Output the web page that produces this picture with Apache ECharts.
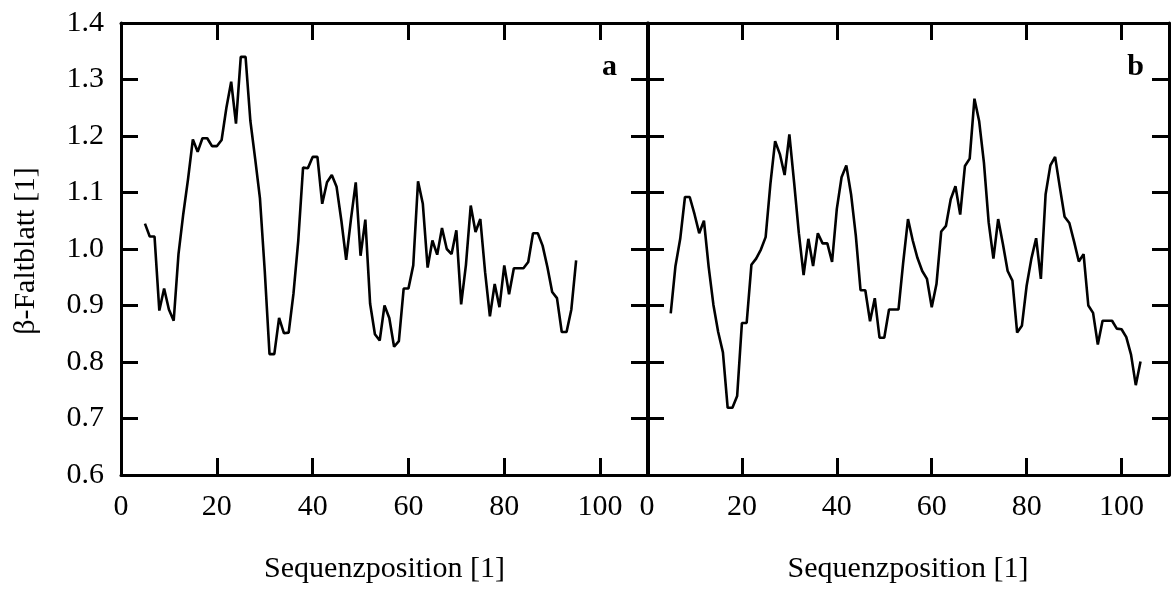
<!DOCTYPE html>
<html>
<head>
<meta charset="utf-8">
<script src="https://cdn.jsdelivr.net/npm/echarts/dist/echarts.min.js"></script>
<style>
  html, body { margin: 0; padding: 0; background: #fff; }
  #chart { width: 1172px; height: 589px; }
</style>
</head>
<body>
<div id="chart"></div>
<script>
// ---- data ----
const xTickLabels = [0, 20, 40, 60, 80, 100];
const yTickLabels = ['0.6', '0.7', '0.8', '0.9', '1.0', '1.1', '1.2', '1.3', '1.4'];
const startA = 5;
const valuesA = [
  1.045, 1.022, 1.022, 0.891, 0.930, 0.893, 0.873, 0.991, 1.062, 1.124,
  1.194, 1.172, 1.196, 1.196, 1.182, 1.182, 1.193, 1.250, 1.296, 1.222,
  1.340, 1.340, 1.227, 1.160, 1.090, 0.962, 0.814, 0.814, 0.878, 0.851,
  0.852, 0.921, 1.015, 1.144, 1.143, 1.163, 1.163, 1.080, 1.118, 1.131,
  1.110, 1.050, 0.981, 1.053, 1.118, 0.988, 1.052, 0.903, 0.849, 0.838,
  0.900, 0.878, 0.827, 0.837, 0.930, 0.930, 0.971, 1.120, 1.080, 0.967,
  1.015, 0.990, 1.037, 1.000, 0.991, 1.033, 0.902, 0.972, 1.077, 1.030,
  1.053, 0.959, 0.881, 0.938, 0.897, 0.971, 0.920, 0.966, 0.966, 0.966,
  0.977, 1.028, 1.028, 1.006, 0.968, 0.924, 0.913, 0.853, 0.853, 0.893,
  0.980
];
const startB = 5;
const valuesB = [
  0.886, 0.970, 1.018, 1.092, 1.092, 1.062, 1.028, 1.050, 0.968, 0.901,
  0.853, 0.817, 0.719, 0.719, 0.740, 0.869, 0.869, 0.972, 0.983, 0.999,
  1.021, 1.115, 1.191, 1.168, 1.131, 1.203, 1.118, 1.028, 0.954, 1.018,
  0.970, 1.028, 1.010, 1.010, 0.977, 1.071, 1.127, 1.148, 1.097, 1.024,
  0.927, 0.927, 0.872, 0.913, 0.843, 0.843, 0.893, 0.893, 0.893, 0.977,
  1.053, 1.015, 0.984, 0.961, 0.947, 0.897, 0.938, 1.031, 1.041, 1.088,
  1.111, 1.061, 1.147, 1.160, 1.266, 1.226, 1.153, 1.047, 0.983, 1.053,
  1.009, 0.961, 0.944, 0.852, 0.864, 0.935, 0.983, 1.019, 0.947, 1.097,
  1.148, 1.163, 1.109, 1.057, 1.046, 1.013, 0.978, 0.991, 0.900, 0.887,
  0.831, 0.873, 0.873, 0.873, 0.859, 0.858, 0.844, 0.813, 0.759, 0.801
];
const xName = 'Sequenzposition [1]';
const yName = 'β-Faltblatt [1]';
const panelLabels = ['a', 'b'];

// ---- chart ----
const FONT = '"Liberation Serif", "Times New Roman", serif';
const black = '#000';
const dataA = valuesA.map((v, i) => [startA + i, v]);
const dataB = valuesB.map((v, i) => [startB + i, v]);

function xAx(grid, pos, withLabels) {
  return {
    gridIndex: grid, type: 'value', position: pos,
    min: 0, max: 110, interval: 20,
    axisLine: { show: true, onZero: false, lineStyle: { color: black, width: 3 } },
    axisTick: { show: true, inside: true, length: 17, lineStyle: { color: black, width: 3 } },
    axisLabel: {
      show: withLabels, margin: 17, fontSize: 30, color: black, fontFamily: FONT,
      formatter: v => (xTickLabels.indexOf(v) >= 0 ? String(v) : '')
    },
    splitLine: { show: false },
    name: withLabels ? xName : '',
    nameLocation: 'middle', nameGap: 79,
    nameTextStyle: { fontSize: 30, color: black, fontFamily: FONT }
  };
}
function yAx(grid, pos, withLabels) {
  return {
    gridIndex: grid, type: 'value', position: pos,
    min: 0.6, max: 1.4, interval: 0.1,
    axisLine: { show: true, onZero: false, lineStyle: { color: black, width: 3 } },
    axisTick: { show: true, inside: true, length: 17, lineStyle: { color: black, width: 3 } },
    axisLabel: {
      show: withLabels, margin: 17, fontSize: 30, color: black, fontFamily: FONT,
      formatter: v => yTickLabels[Math.round((v - 0.6) * 10)] || ''
    },
    splitLine: { show: false }
  };
}

const chart = echarts.init(document.getElementById('chart'), null, { renderer: 'canvas' });
chart.setOption({
  animation: false,
  backgroundColor: '#fff',
  textStyle: { fontFamily: FONT },
  grid: [
    { left: 121, top: 23, width: 527, height: 454 },
    { left: 647, top: 23, width: 527, height: 454 }
  ],
  xAxis: [xAx(0, 'bottom', true), xAx(0, 'top', false), xAx(1, 'bottom', true), xAx(1, 'top', false)],
  yAxis: [yAx(0, 'left', true), yAx(0, 'right', false), yAx(1, 'left', false), yAx(1, 'right', false)],
  series: [
    { type: 'line', xAxisIndex: 0, yAxisIndex: 0, data: dataA, symbol: 'none',
      lineStyle: { color: black, width: 2.6 } },
    { type: 'line', xAxisIndex: 2, yAxisIndex: 2, data: dataB, symbol: 'none',
      lineStyle: { color: black, width: 2.6 } }
  ],
  graphic: [
    { type: 'text', x: 26, y: 251, rotation: Math.PI / 2,
      style: { text: yName, font: '30px ' + FONT, fill: black, align: 'center', verticalAlign: 'middle' } },
    { type: 'text', x: 617, y: 67,
      style: { text: panelLabels[0], font: 'bold 30px ' + FONT, fill: black, align: 'right', verticalAlign: 'middle' } },
    { type: 'text', x: 1144, y: 67,
      style: { text: panelLabels[1], font: 'bold 30px ' + FONT, fill: black, align: 'right', verticalAlign: 'middle' } }
  ]
});
</script>
</body>
</html>
